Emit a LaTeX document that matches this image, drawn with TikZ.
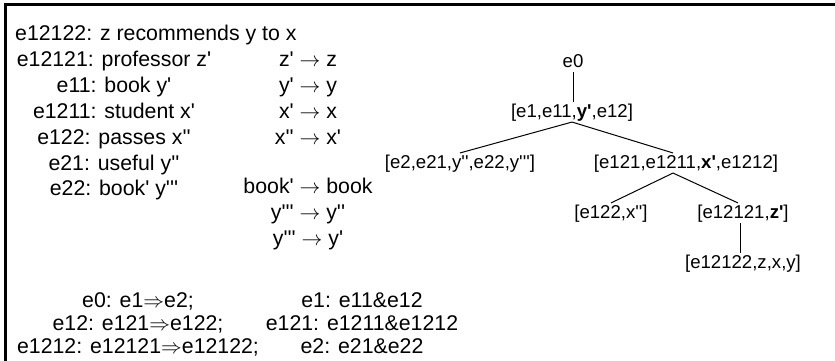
\documentclass[tikz,border=0pt]{standalone}
\usepackage{fontspec}
\setmainfont{Liberation Sans}
\usepackage{tikz}
\usetikzlibrary{positioning}
\newcommand{\ap}{\textquotesingle}

\begin{document}
\begin{tikzpicture}[
    x=1pt, y=1pt,
    node distance=5.2pt,
    lbl/.style={font=\fontsize{21.3}{25}\selectfont, inner sep=0pt, text height=16pt, text depth=4.2pt},
    tnode/.style={font=\fontsize{18.6}{22}\selectfont, inner sep=1pt, text height=14pt, text depth=3.7pt},
    branch/.style={draw=black, line width=1pt},
    frame/.style={line width=3pt}
]

\useasboundingbox (0,0) rectangle (835,-361);

% Frame (top and left side)
\draw[frame] (835,-5) -- (5,-5) -- (5,-361);

% Story line
\node[lbl, anchor=west] (story) at (15,-35) {e12122: z recommends y to x};

% Events
\node[lbl] (ev1) at (114,-61) {e12121: professor z\ap};
\node[lbl, below=of ev1] (ev2) {e11: book y\ap};
\node[lbl, below=of ev2] (ev3) {e1211: student x\ap};
\node[lbl, below=of ev3] (ev4) {e122: passes x\ap\ap};
\node[lbl, below=of ev4] (ev5) {e21: useful y\ap\ap};
\node[lbl, below=of ev5] (ev6) {e22: book\ap{} y\ap\ap\ap};

% Rewrites
\node[lbl] (rw1) at (308,-61) {z\ap{} $\rightarrow$ z};
\node[lbl, below=of rw1] (rw2) {y\ap{} $\rightarrow$ y};
\node[lbl, below=of rw2] (rw3) {x\ap{} $\rightarrow$ x};
\node[lbl, below=of rw3] (rw4) {x\ap\ap{} $\rightarrow$ x\ap};
\node[lbl] (rw5) at (308,-188) {book\ap{} $\rightarrow$ book};
\node[lbl, below=of rw5] (rw6) {y\ap\ap\ap{} $\rightarrow$ y\ap\ap};
\node[lbl, below=of rw6] (rw7) {y\ap\ap\ap{} $\rightarrow$ y\ap};

% Tree
\node[tnode] (e0) at (573,-62) {e0};
\node[tnode] (e1) at (572,-112) {[e1,e11,\textbf{y\ap},e12]};
\node[tnode] (e2) at (460,-163) {[e2,e21,y\ap\ap,e22,y\ap\ap\ap]};
\node[tnode] (e121) at (686,-163) {[e121,e1211,\textbf{x\ap},e1212]};
\node[tnode] (e122) at (611,-213) {[e122,x\ap\ap]};
\node[tnode] (e12121) at (743,-213) {[e12121,\textbf{z\ap}]};
\node[tnode] (e12122) at (743,-263) {[e12122,z,x,y]};

\draw[branch] (e0.south) -- (e1.north -| e0.south);
\draw[branch] (e1.south) -- (e2.north);
\draw[branch] (e1.south) -- ([xshift=-13pt]e121.north);
\draw[branch] ([xshift=-13pt]e121.south) -- (e122.north);
\draw[branch] ([xshift=-13pt]e121.south) -- ([xshift=-5pt]e12121.north);
\draw[branch] ([xshift=-3pt]e12121.south) -- ([xshift=-3pt]e12122.north);

% Formulas
\node[lbl] (f1) at (138,-302) {e0: e1$\Rightarrow$e2;};
\node[lbl, below=2.3pt of f1] (f2) {e12: e121$\Rightarrow$e122;};
\node[lbl, below=2.3pt of f2] (f3) {e1212: e12121$\Rightarrow$e12122;};
\node[lbl] (g1) at (362,-302) {e1: e11\&e12};
\node[lbl, below=2.3pt of g1] (g2) {e121: e1211\&e1212};
\node[lbl, below=2.3pt of g2] (g3) {e2: e21\&e22};

\end{tikzpicture}
\end{document}
